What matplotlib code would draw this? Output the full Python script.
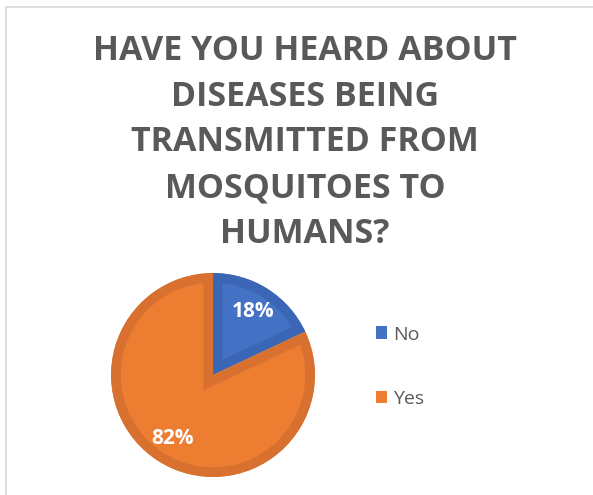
import matplotlib
matplotlib.use('Agg')
import matplotlib.pyplot as plt
from matplotlib.patches import Patch, Rectangle

labels = ['No', 'Yes']
values = [18, 82]
fill_colors = ['#4472C4', '#ED7D31']
edge_colors = ['#3A66B5', '#D8712F']
title = 'HAVE YOU HEARD ABOUT\nDISEASES BEING\nTRANSMITTED FROM\nMOSQUITOES TO\nHUMANS?'

plt.rcParams['font.family'] = ['Open Sans', 'DejaVu Sans']

fig = plt.figure(figsize=(5.93, 4.95), dpi=100)
W, H = 593., 495.

# chart frame
fig.patches.append(Rectangle((6 / W, -0.1), 1.2, 1 - 7 / H + 0.1, transform=fig.transFigure,
                             fill=False, edgecolor='#D9D9D9', linewidth=1.2))

fig.text(305 / W, 1 - 34 / H, title, ha='center', va='top', fontsize=24.5, fontweight='bold',
         color='#595959', linespacing=1.45)

cx, cy, half = 213., 375., 110.
ax = fig.add_axes([(cx - half) / W, (H - cy - half) / H, 2 * half / W, 2 * half / H])

wedges, texts, autotexts = ax.pie(values, colors=fill_colors, startangle=90, counterclock=False,
                                  radius=1.02, autopct='%d%%', pctdistance=0.74,
                                  textprops=dict(color='white', fontsize=15, fontweight='bold'))
# darker border drawn only inside each slice
for w, ec in zip(wedges, edge_colors):
    w.set_edgecolor(ec)
    w.set_linewidth(14)
    w.set_clip_on(True)
    w.set_clip_path(w)
ax.set_xlim(-1.1, 1.1)
ax.set_ylim(-1.1, 1.1)
ax.set_aspect('equal')
ax.axis('off')

handles = [Patch(facecolor=c, edgecolor='none') for c in fill_colors]
fig.legend(handles, labels, loc='upper left', bbox_to_anchor=(358 / W, 1 - 308 / H),
           frameon=False, fontsize=14, labelcolor='#595959', handlelength=0.6, handleheight=0.6,
           handletextpad=0.3, labelspacing=2.4)

fig.savefig('out.png', dpi=100)
